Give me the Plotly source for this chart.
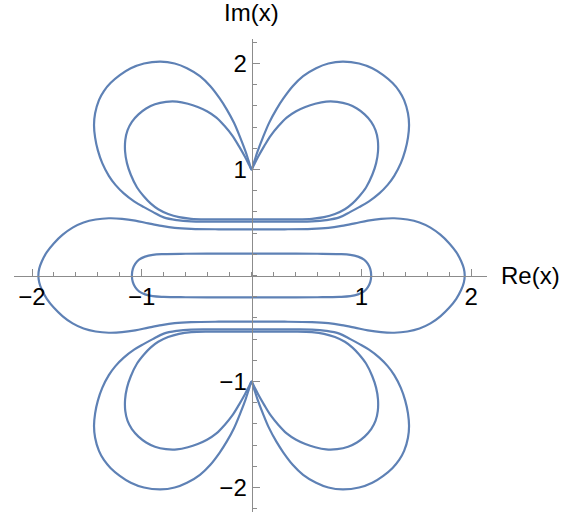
import plotly.graph_objects as go

# Upper-right quarter of each root branch, listed as (Re, Im) samples.
# Outer lobe: from the flat bottom at Re=0 out and around to the cusp at i.
outer_lobe_re = [0.0, 0.2, 0.4, 0.55, 0.68, 0.8, 0.9, 0.98, 1.07, 1.164, 1.24, 1.3, 1.36, 1.4,
                 1.425, 1.435, 1.425, 1.39, 1.345, 1.285, 1.2, 1.1, 0.98, 0.83, 0.7, 0.588,
                 0.47, 0.375, 0.29, 0.225, 0.16, 0.103, 0.055, 0.02, 0.0]
outer_lobe_im = [0.508, 0.508, 0.508, 0.51, 0.522, 0.548, 0.6, 0.645, 0.7, 0.775, 0.855, 0.94, 1.06, 1.18,
                 1.3, 1.42, 1.53, 1.655, 1.74, 1.815, 1.89, 1.955, 2.0, 2.018, 2.0, 1.955,
                 1.88, 1.785, 1.67, 1.565, 1.44, 1.3, 1.17, 1.06, 1.0]

# Inner lobe: same path, tighter loop.
inner_lobe_re = [0.0, 0.2, 0.4, 0.55, 0.66, 0.76, 0.85, 0.92, 0.98, 1.043, 1.1, 1.135, 1.152, 1.15,
                 1.13, 1.09, 1.03, 0.96, 0.88, 0.78, 0.68, 0.58, 0.49, 0.406, 0.32, 0.245,
                 0.175, 0.115, 0.06, 0.02, 0.0]
inner_lobe_im = [0.53, 0.53, 0.53, 0.535, 0.55, 0.58, 0.625, 0.68, 0.745, 0.83, 0.95, 1.06, 1.17, 1.28,
                 1.37, 1.45, 1.52, 1.575, 1.615, 1.638, 1.64, 1.62, 1.59, 1.55, 1.49, 1.41,
                 1.32, 1.22, 1.12, 1.04, 1.0]

# Wide loop crossing the real axis near +-1.94.
wide_loop_re = [0.0, 0.3, 0.55, 0.7, 0.82, 0.94, 1.06, 1.18, 1.3, 1.42, 1.53, 1.63, 1.72, 1.8,
                1.865, 1.91, 1.934, 1.942]
wide_loop_im = [0.436, 0.436, 0.44, 0.45, 0.468, 0.492, 0.518, 0.535, 0.54, 0.528, 0.5, 0.452, 0.385, 0.305,
                0.22, 0.135, 0.065, 0.0]

# Narrow loop around the real segment [-1.09, 1.09].
narrow_loop_re = [0.0, 0.3, 0.6, 0.8, 0.9, 0.97, 1.025, 1.06, 1.082, 1.09]
narrow_loop_im = [0.206, 0.206, 0.205, 0.202, 0.195, 0.178, 0.15, 0.11, 0.06, 0.0]

x_ticks = [-2, -1, 1, 2]
y_ticks = [-2, -1, 1, 2]
tick_text = ["\u22122", "\u22121", "1", "2"]
x_range = [-2.164, 2.145]
y_range = [-2.231, 2.231]

LINE = "#5E81B5"
AXIS = "#8c8c8c"


def lobe_pair(re, im, sign):
    """Join a right-hand lobe with its mirror image (cusp -> left lobe -> bottom -> right lobe -> cusp)."""
    left_re = [-v for v in reversed(re)]
    left_im = list(reversed(im))
    xs = left_re + re[1:]
    ys = left_im + im[1:]
    return xs, [sign * v for v in ys]


def four_fold(re, im):
    """Close a quarter curve (from the imaginary axis to the real axis) by both reflections."""
    xs = list(re) + [v for v in reversed(re[:-1])]
    ys = list(im) + [-v for v in reversed(im[:-1])]
    xs = xs + [-v for v in reversed(xs[:-1])]
    ys = ys + list(reversed(ys[:-1]))
    return xs, ys


curves = []
for sign in (1, -1):
    curves.append(lobe_pair(outer_lobe_re, outer_lobe_im, sign))
    curves.append(lobe_pair(inner_lobe_re, inner_lobe_im, sign))
curves.append(four_fold(wide_loop_re, wide_loop_im))
curves.append(four_fold(narrow_loop_re, narrow_loop_im))

fig = go.Figure()
for xs, ys in curves:
    fig.add_trace(go.Scatter(x=xs, y=ys, mode="lines",
                             line=dict(color=LINE, width=2.2, shape="spline", smoothing=1.0),
                             hoverinfo="skip", showlegend=False))

font_family = "Liberation Sans, Arial, sans-serif"
axis_common = dict(
    showline=True, linecolor=AXIS, linewidth=1,
    showgrid=False, zeroline=False,
    tickmode="array", ticktext=tick_text,
    ticks="inside", ticklen=7, tickcolor=AXIS,
    minor=dict(dtick=0.2, tick0=0, ticks="inside", ticklen=4, tickcolor=AXIS),
    tickfont=dict(size=24),
)
fig.update_layout(
    width=573, height=515,
    margin=dict(l=14, r=86, t=39, b=3),
    paper_bgcolor="white", plot_bgcolor="white",
    font=dict(family=font_family, color="black", size=24),
    xaxis=dict(range=x_range, anchor="free", position=0.5, tickvals=x_ticks, **axis_common),
    yaxis=dict(range=y_range, anchor="free",
               position=(0 - x_range[0]) / (x_range[1] - x_range[0]),
               tickvals=y_ticks, **axis_common),
    annotations=[
        dict(text="Im(x)", x=0, xref="x", y=1.055, yref="paper",
             xanchor="center", yanchor="middle", showarrow=False, font=dict(size=24)),
        dict(text="Re(x)", x=1.025, xref="paper", y=0, yref="y",
             xanchor="left", yanchor="middle", showarrow=False, font=dict(size=24)),
    ],
)

fig.write_html("out.html")
